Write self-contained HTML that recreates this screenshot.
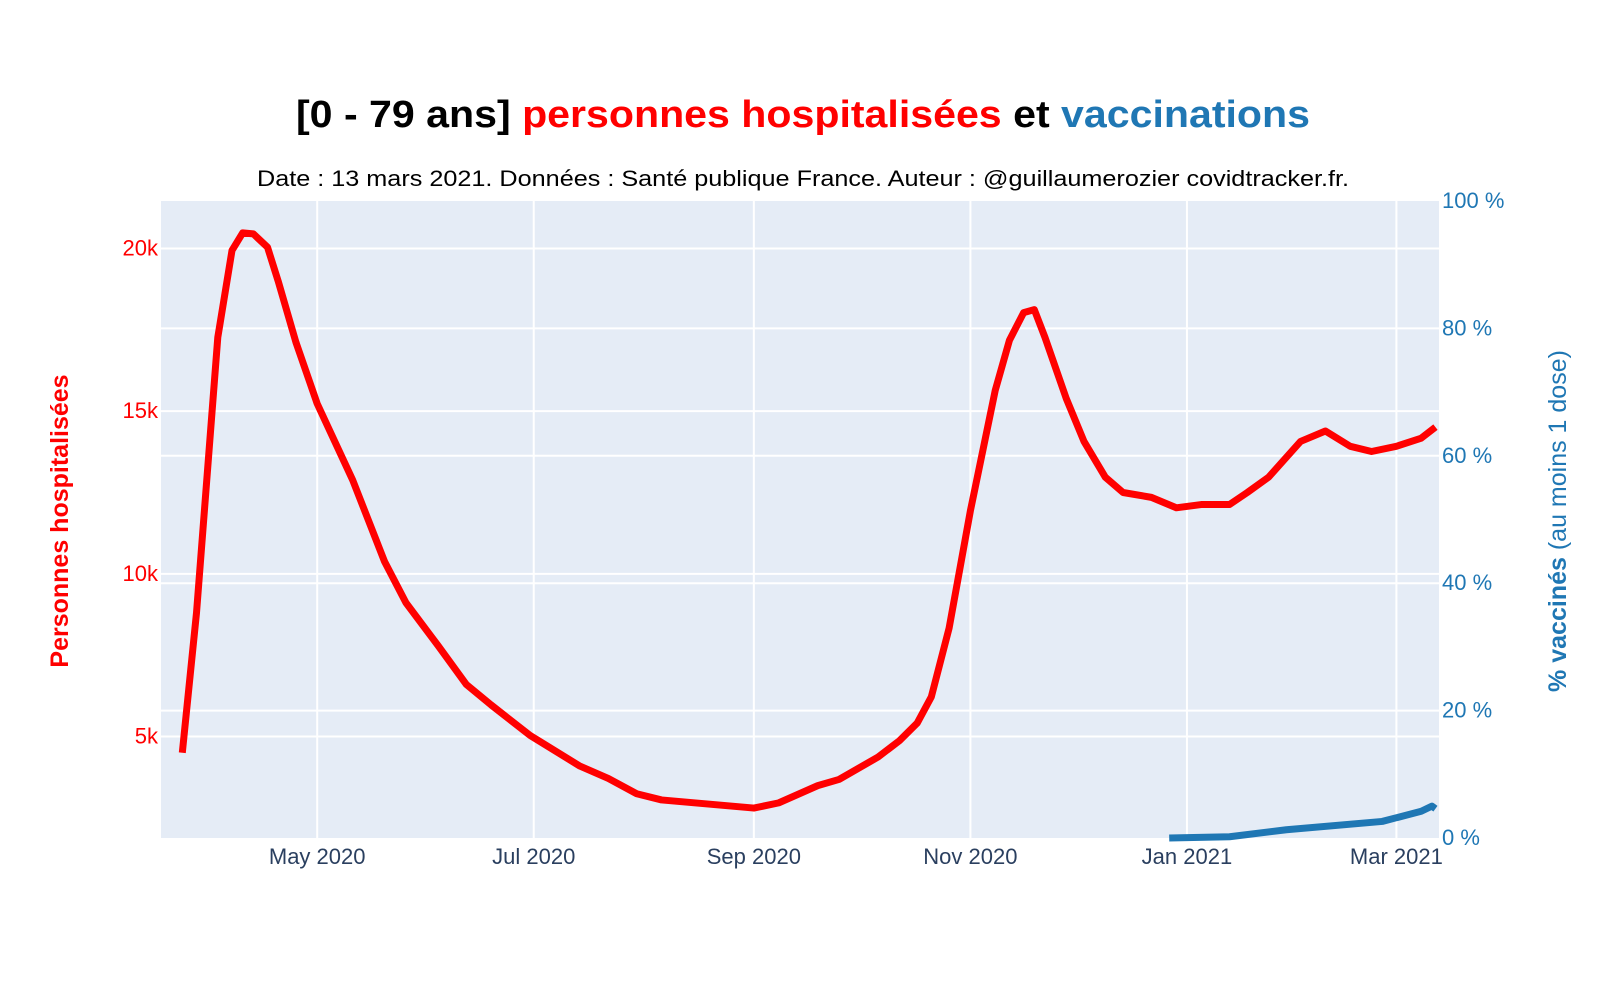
<!DOCTYPE html>
<html><head><meta charset="utf-8"><style>
body{margin:0;background:#fff;}
svg text{font-family:"Liberation Sans",sans-serif;}
</style></head><body>
<svg id="chart" width="1600" height="1000" xmlns="http://www.w3.org/2000/svg">
<rect width="1600" height="1000" fill="#fff"/>
<text x="803" y="127" text-anchor="middle" font-size="38" font-weight="bold" textLength="1014" lengthAdjust="spacingAndGlyphs"><tspan fill="#000">[0 - 79 ans] </tspan><tspan fill="#ff0000">personnes hospitalisées</tspan><tspan fill="#000"> et </tspan><tspan fill="#1f77b4">vaccinations</tspan></text>
<text x="803" y="186" text-anchor="middle" font-size="22" fill="#000" textLength="1092" lengthAdjust="spacingAndGlyphs">Date : 13 mars 2021. Données : Santé publique France. Auteur : @guillaumerozier covidtracker.fr.</text>
<rect x="161" y="201" width="1278" height="637" fill="#e5ecf6"/>
<g id="grid"></g><g id="series"></g><g id="axes"></g>
<text transform="translate(68,521) rotate(-90)" text-anchor="middle" font-size="25" font-weight="bold" fill="#ff0000">Personnes hospitalisées</text>
<text transform="translate(1566,521) rotate(-90)" text-anchor="middle" font-size="25" fill="#1f77b4"><tspan font-weight="bold">% vaccinés</tspan> (au moins 1 dose)</text>
</svg>
<script>
const hospDates=["2020-03-24","2020-03-28","2020-04-03","2020-04-07","2020-04-10","2020-04-13","2020-04-17","2020-04-20","2020-04-25","2020-05-01","2020-05-11","2020-05-20","2020-05-26","2020-06-04","2020-06-12","2020-06-19","2020-06-30","2020-07-14","2020-07-22","2020-07-30","2020-08-06","2020-09-01","2020-09-08","2020-09-19","2020-09-25","2020-10-06","2020-10-12","2020-10-17","2020-10-21","2020-10-26","2020-11-01","2020-11-08","2020-11-12","2020-11-16","2020-11-19","2020-11-22","2020-11-28","2020-12-03","2020-12-09","2020-12-14","2020-12-22","2020-12-29","2021-01-05","2021-01-13","2021-01-18","2021-01-24","2021-02-02","2021-02-09","2021-02-16","2021-02-22","2021-03-01","2021-03-08","2021-03-12"];
const hospValues=[4500,8800,17270,19940,20480,20450,20040,19000,17120,15230,12880,10370,9110,7800,6600,5970,5030,4090,3710,3240,3050,2800,2960,3490,3680,4370,4870,5410,6220,8330,11940,15640,17180,18030,18120,17270,15390,14070,12970,12500,12350,12030,12130,12130,12500,12970,14070,14390,13920,13760,13920,14170,14510];
const vaccDates=["2020-12-27","2021-01-13","2021-01-29","2021-02-25","2021-03-08","2021-03-11","2021-03-12"];
const vaccValues=[0,0.2,1.3,2.6,4.2,5.0,4.6];
const leftTicks=[5000,10000,15000,20000];
const leftTickLabels=["5k","10k","15k","20k"];
const rightTicks=[0,20,40,60,80,100];
const rightTickLabels=["0 %","20 %","40 %","60 %","80 %","100 %"];
const xTickDates=["2020-05-01","2020-07-01","2020-09-01","2020-11-01","2021-01-01","2021-03-01"];
const xTickLabels=["May 2020","Jul 2020","Sep 2020","Nov 2020","Jan 2021","Mar 2021"];

const NS="http://www.w3.org/2000/svg";
const X0=161,X1=1439,Y0=201,Y1=838;
const t0=Date.parse("2020-03-18"),t1=Date.parse("2021-03-13");
const xs=d=>X0+(Date.parse(d)-t0)/(t1-t0)*(X1-X0);
const yL=v=>Y1-(v-1880)/(21460-1880)*(Y1-Y0);
const yR=v=>Y1-v/100*(Y1-Y0);
function mk(tag,attrs,parent){const e=document.createElementNS(NS,tag);for(const k in attrs)e.setAttribute(k,attrs[k]);parent.appendChild(e);return e;}
const grid=document.getElementById('grid'),axes=document.getElementById('axes'),series=document.getElementById('series');
xTickDates.forEach((d,i)=>{
  const l=mk('line',{x1:xs(d),x2:xs(d),y1:Y0,y2:Y1,stroke:'#fff','stroke-width':2},grid);
  
  
  const t=mk('text',{x:xs(d),y:864,'text-anchor':'middle','font-size':22,fill:'#2a3f5f'},axes);
  t.textContent=xTickLabels[i];
  
  
});
leftTicks.forEach((v,i)=>{
  const l=mk('line',{x1:X0,x2:X1,y1:yL(v),y2:yL(v),stroke:'#fff','stroke-width':2},grid);
  
  
  const t=mk('text',{x:X0-3,y:yL(v)+7,'text-anchor':'end','font-size':22,fill:'#ff0000'},axes);
  t.textContent=leftTickLabels[i];
  
  
});
rightTicks.forEach((v,i)=>{
  if(v>0&&v<100){const l=mk('line',{x1:X0,x2:X1,y1:yR(v),y2:yR(v),stroke:'#fff','stroke-width':2},grid);
  
  }
  const t=mk('text',{x:X1+3,y:yR(v)+7,'text-anchor':'start','font-size':22,fill:'#1f77b4'},axes);
  t.textContent=rightTickLabels[i];
  
  
});
const hp=mk('polyline',{points:hospDates.map((d,i)=>xs(d)+','+yL(hospValues[i])).join(' '),fill:'none',stroke:'#ff0000','stroke-width':7,'stroke-linejoin':'round'},series);


const vp=mk('polyline',{points:vaccDates.map((d,i)=>xs(d)+','+yR(vaccValues[i])).join(' '),fill:'none',stroke:'#1f77b4','stroke-width':7,'stroke-linejoin':'round'},series);


</script>
</body></html>
